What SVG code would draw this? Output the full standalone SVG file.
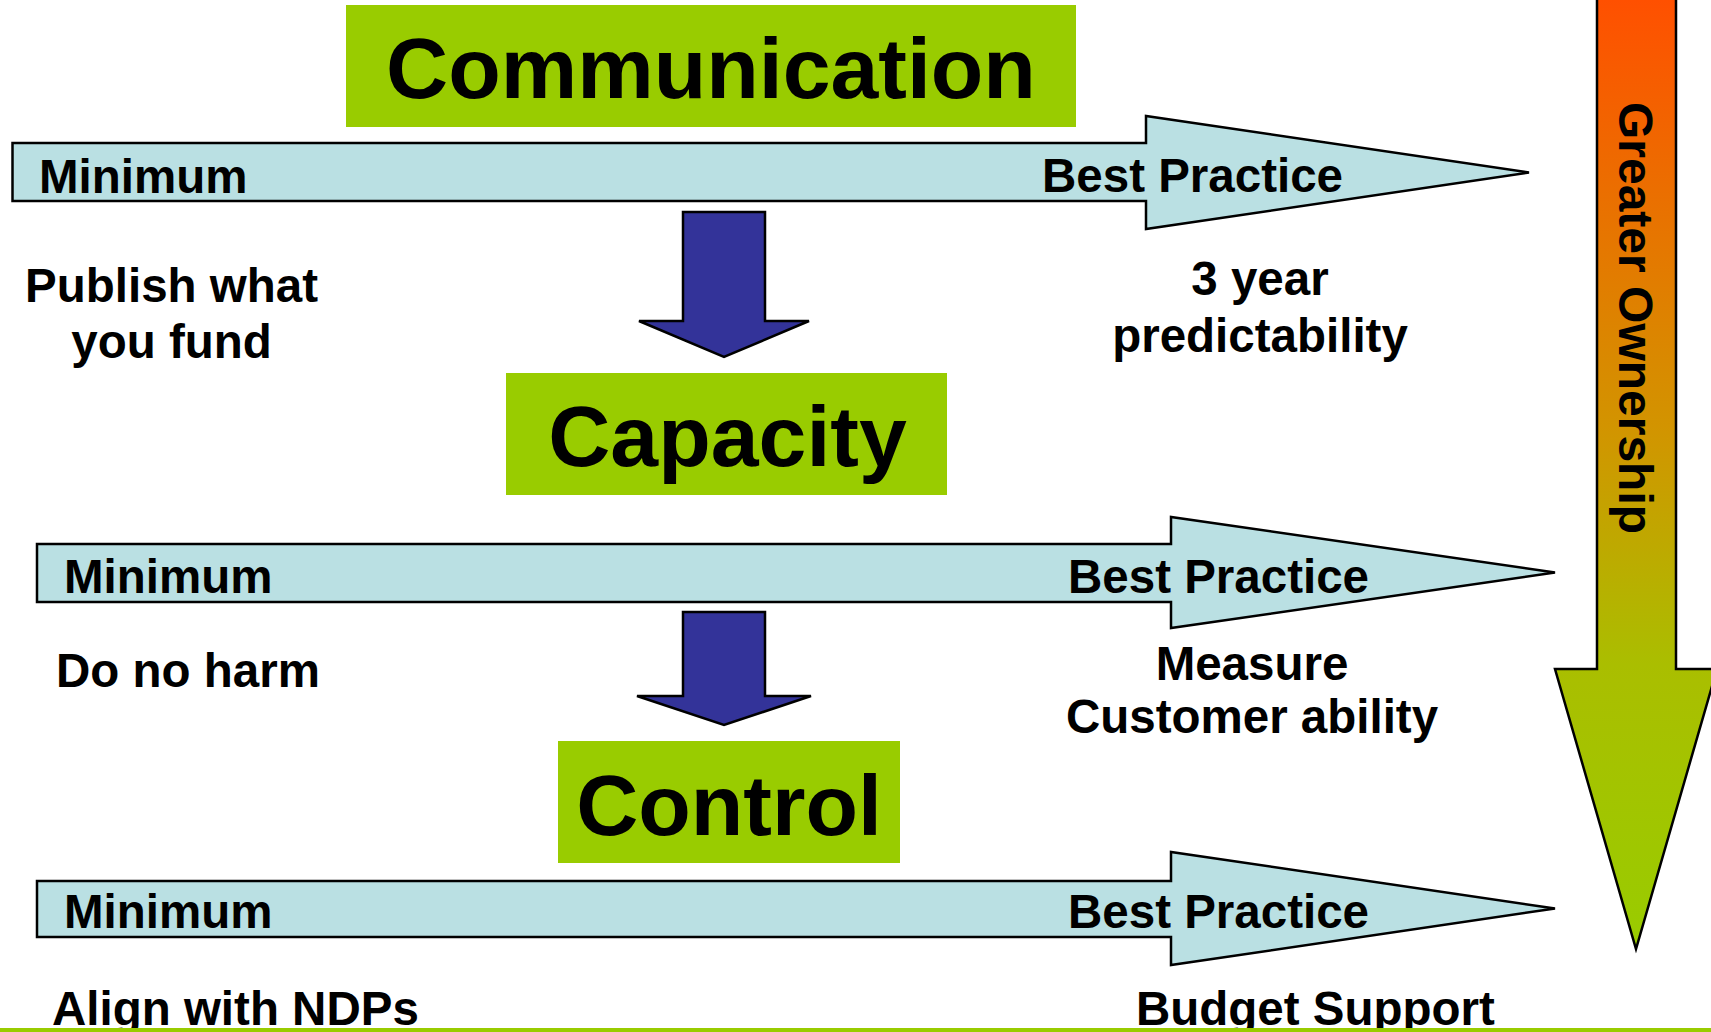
<svg xmlns="http://www.w3.org/2000/svg" width="1711" height="1032" viewBox="0 0 1711 1032">
<style>
.box{fill:#99CC00;stroke:none}
.band{fill:#BAE0E3;stroke:#000;stroke-width:2.5;stroke-linejoin:miter}
.down{fill:#333399;stroke:#000;stroke-width:2.5}
.t{font-family:"Liberation Sans",Arial,sans-serif;font-weight:bold;fill:#000}
.title{font-size:86px;text-anchor:middle}
.lbl{font-size:47.5px}
.mid{text-anchor:middle}
</style>
<defs>
<linearGradient id="own" gradientUnits="userSpaceOnUse" x1="0" y1="0" x2="0" y2="949">
<stop offset="0" stop-color="#FF5000"/>
<stop offset="0.45" stop-color="#D29400"/>
<stop offset="0.7" stop-color="#AABE00"/>
<stop offset="1" stop-color="#99CC00"/>
</linearGradient>
</defs>
<rect x="0" y="0" width="1711" height="1032" fill="#fff"/>

<g id="ownership">
<polygon points="1597,-5 1676,-5 1676,669 1717,669 1636,949 1555,669 1597,669" fill="url(#own)" stroke="#000" stroke-width="2.5"/>
<text class="t" font-size="48" text-anchor="middle" transform="translate(1619,318) rotate(90)">Greater Ownership</text>
</g>

<g id="communication">
<rect class="box" x="346" y="5" width="730" height="122"/>
<text class="t title" x="711" y="98">Communication</text>
</g>

<g id="band1">
<polygon class="band" points="12.5,143 1146,143 1146,116 1529,172.5 1146,229 1146,201 12.5,201"/>
<text class="t lbl" x="39" y="193">Minimum</text>
<text class="t lbl" x="1042" y="192">Best Practice</text>
</g>

<g id="publish">
<text class="t lbl mid" x="171.5" y="302">Publish what</text>
<text class="t lbl mid" x="171.5" y="358">you fund</text>
</g>

<g id="predictability">
<text class="t lbl mid" x="1260" y="295">3 year</text>
<text class="t lbl mid" x="1260" y="352">predictability</text>
</g>

<g id="capacity">
<rect class="box" x="506" y="373" width="441" height="122"/>
<text class="t title" x="727.5" y="466">Capacity</text>
</g>

<g id="band2">
<polygon class="band" points="37,544 1171,544 1171,517 1555,572.5 1171,628 1171,602 37,602"/>
<text class="t lbl" x="64" y="593">Minimum</text>
<text class="t lbl" x="1068" y="593">Best Practice</text>
</g>

<g id="donoharm">
<text class="t lbl" x="56" y="687">Do no harm</text>
</g>

<g id="measure">
<text class="t lbl mid" x="1252" y="680">Measure</text>
<text class="t lbl mid" x="1252" y="733">Customer ability</text>
</g>

<g id="control">
<rect class="box" x="558" y="741" width="342" height="122"/>
<text class="t title" x="729" y="835">Control</text>
</g>

<g id="band3">
<polygon class="band" points="37,881 1171,881 1171,852 1555,908.5 1171,965 1171,937 37,937"/>
<text class="t lbl" x="64" y="928">Minimum</text>
<text class="t lbl" x="1068" y="928">Best Practice</text>
</g>

<g id="align">
<text class="t lbl" x="52" y="1025">Align with NDPs</text>
</g>

<g id="budget">
<text class="t lbl" x="1136" y="1025">Budget Support</text>
</g>

<g id="connectors">
<polygon class="down" points="683,212 765,212 765,321 809,321 724,357 639,321 683,321"/>
<polygon class="down" points="683,612 765,612 765,696 811,696 724,725 637,696 683,696"/>
</g>

<rect id="baseline" x="0" y="1028" width="1711" height="4" fill="#99CC00"/>
</svg>
